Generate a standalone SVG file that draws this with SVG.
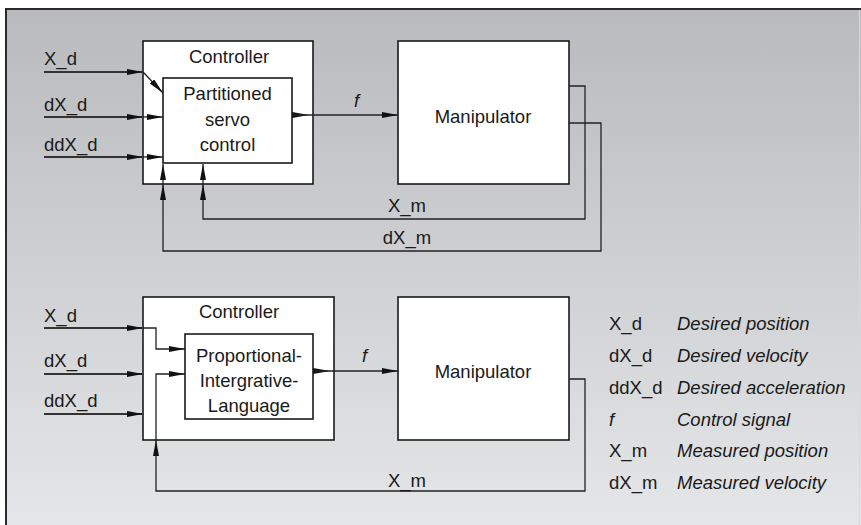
<svg xmlns="http://www.w3.org/2000/svg" width="861" height="525" viewBox="0 0 861 525">
  <defs>
    <linearGradient id="bg" x1="0" y1="0" x2="0" y2="1">
      <stop offset="0" stop-color="#b9babd"/>
      <stop offset="1" stop-color="#e5e6e8"/>
    </linearGradient>
    <marker id="arr" markerUnits="userSpaceOnUse" markerWidth="17" markerHeight="7" refX="16" refY="3" orient="auto">
      <path d="M0,0 L16,3 L0,6 z" fill="#111"/>
    </marker>
    <style>
      .box { fill: #fff; stroke: #1a1a1a; stroke-width: 1.6; }
      .t { font-family: "Liberation Sans", Arial, sans-serif; font-size: 18.5px; fill: #1a1a1a; }
      .c { text-anchor: middle; }
      .i { font-style: italic; }
      .in { fill: none; stroke: #333; stroke-width: 2; }
      .ln { fill: none; stroke: #222; stroke-width: 1.3; }
    </style>
  </defs>

  <!-- panel -->
  <rect x="0" y="0" width="861" height="525" fill="#fff"/>
  <rect x="6" y="9" width="855" height="516" fill="url(#bg)"/>
  <path d="M6,525 V9 H861" fill="none" stroke="#2a2a2a" stroke-width="2"/>
  <line x1="859.5" y1="10" x2="859.5" y2="525" stroke="#d8d9db" stroke-width="1"/>

  <!-- upper loop -->
  <g id="ctrl1">
    <rect class="box" x="143" y="41" width="170" height="143"/>
    <text class="t c" x="229" y="63">Controller</text>
  </g>
  <g id="servo1">
    <rect class="box" x="163" y="78" width="129" height="85"/>
    <text class="t c" x="227.5" y="100">Partitioned</text>
    <text class="t c" x="227.5" y="126">servo</text>
    <text class="t c" x="227.5" y="151">control</text>
  </g>
  <g id="manip1">
    <rect class="box" x="398" y="41" width="171" height="143"/>
    <text class="t c" x="483" y="123">Manipulator</text>
  </g>

  <!-- lower loop -->
  <g id="ctrl2">
    <rect class="box" x="143" y="297" width="191" height="143"/>
    <text class="t c" x="239" y="318">Controller</text>
  </g>
  <g id="pil2">
    <rect class="box" x="185" y="334" width="128" height="85"/>
    <text class="t c" x="249" y="362">Proportional-</text>
    <text class="t c" x="249" y="387">Intergrative-</text>
    <text class="t c" x="249" y="412">Language</text>
  </g>
  <g id="manip2">
    <rect class="box" x="398" y="297" width="171" height="143"/>
    <text class="t c" x="483" y="378">Manipulator</text>
  </g>

  <!-- connectors -->
  <g id="connectors">
    <!-- upper inputs -->
    <path class="in" d="M44,72 H143" marker-end="url(#arr)"/>
    <path class="ln" d="M143,72 L163,93" stroke-width="1" marker-end="url(#arr)"/>
    <path class="in" d="M44,117 H143" marker-end="url(#arr)"/>
    <path class="ln" d="M143,117 H163" marker-end="url(#arr)"/>
    <path class="in" d="M44,157 H143" marker-end="url(#arr)"/>
    <path class="ln" d="M143,157 H163" marker-end="url(#arr)"/>
    <!-- upper control signal -->
    <path d="M292,112 L309,115 L292,118 z" fill="#111"/>
    <path class="ln" d="M292,115 H398" marker-end="url(#arr)"/>
    <!-- upper feedback -->
    <path class="ln" d="M569,86 H585 V219 H203 V184" marker-end="url(#arr)"/>
    <path class="ln" d="M203,184 V164" marker-end="url(#arr)"/>
    <path class="ln" d="M569,123 H601 V251 H163 V184" marker-end="url(#arr)"/>
    <path class="ln" d="M163,184 V164" marker-end="url(#arr)"/>

    <!-- lower inputs -->
    <path class="in" d="M44,328 H143" marker-end="url(#arr)"/>
    <path class="ln" d="M143,328 H156 V349 H185" marker-end="url(#arr)"/>
    <path class="in" d="M44,374 H143" marker-end="url(#arr)"/>
    <path class="in" d="M44,414 H143" marker-end="url(#arr)"/>
    <!-- lower control signal -->
    <path d="M313,368 L330,371 L313,374 z" fill="#111"/>
    <path class="ln" d="M313,371 H398" marker-end="url(#arr)"/>
    <!-- lower feedback -->
    <path class="ln" d="M569,379 H585 V491 H156 V440" marker-end="url(#arr)"/>
    <path class="ln" d="M156,440 V374 H185" marker-end="url(#arr)"/>
  </g>

  <!-- signal labels -->
  <g id="labels">
    <text class="t" x="44" y="65">X_d</text>
    <text class="t" x="44" y="111">dX_d</text>
    <text class="t" x="44" y="151">ddX_d</text>
    <text class="t i" x="354" y="107">f</text>
    <text class="t c" x="407" y="212">X_m</text>
    <text class="t c" x="407" y="244">dX_m</text>

    <text class="t" x="44" y="322">X_d</text>
    <text class="t" x="44" y="367">dX_d</text>
    <text class="t" x="44" y="407">ddX_d</text>
    <text class="t i" x="362" y="362">f</text>
    <text class="t c" x="407" y="487">X_m</text>
  </g>

  <!-- legend -->
  <g id="legend">
    <text class="t" x="609" y="330">X_d</text>
    <text class="t i" x="677" y="330">Desired position</text>
    <text class="t" x="609" y="362">dX_d</text>
    <text class="t i" x="677" y="362">Desired velocity</text>
    <text class="t" x="609" y="394">ddX_d</text>
    <text class="t i" x="677" y="394">Desired acceleration</text>
    <text class="t i" x="609" y="426">f</text>
    <text class="t i" x="677" y="426">Control signal</text>
    <text class="t" x="609" y="457">X_m</text>
    <text class="t i" x="677" y="457">Measured position</text>
    <text class="t" x="609" y="489">dX_m</text>
    <text class="t i" x="677" y="489">Measured velocity</text>
  </g>
</svg>
